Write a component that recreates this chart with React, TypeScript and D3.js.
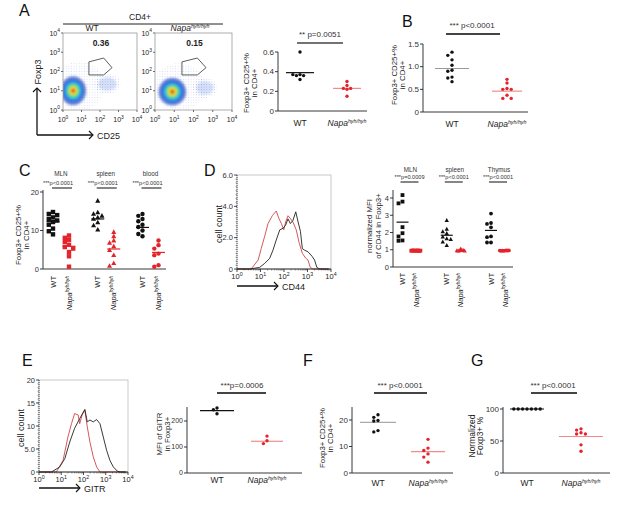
import React from 'react';
import * as d3 from 'd3';

const FONT = '"Liberation Sans", Arial, Helvetica, sans-serif';
const RED = '#e3242b';
const PINK = '#f28b8b';

// ---------- A: flow plots ----------
const facsGateValues = ['0.36', '0.15'];
const facsDecades = [0, 1, 2, 3, 4];
const densityLevels = [1, 0.8, 0.63, 0.48, 0.35, 0.23, 0.12];
const densityColors = ['#3452c4', '#2f6fdc', '#33b5e6', '#5fd38a', '#c9e64a', '#f5b82e', '#e0301e'];
// [log CD25, log Foxp3, spread x, spread y]
const wtBlob = [0.55, 1.0, 0.7, 0.75];
const napaBlob = [0.9, 0.95, 0.72, 0.72];
const wtMinor = [2.4, 1.35, 0.5, 0.35];
const napaMinor = [2.6, 1.15, 0.45, 0.35];
const gateX = [1.4, 2.2, 2.65, 2.2, 1.4];
const gateY = [2.5, 2.7, 2.2, 1.82, 1.82];

// ---------- A / B dot plots ----------
const genotypes = ['WT', 'Napa'];
const aWT = [0.6, 0.37, 0.36, 0.36, 0.37, 0.32];
const aNapa = [0.3, 0.26, 0.23, 0.22, 0.23, 0.15];
const aMeans = [0.39, 0.23];
const bWT = [1.32, 1.25, 1.15, 1.03, 0.92, 0.9, 0.77, 0.75, 0.67];
const bNapa = [0.72, 0.64, 0.52, 0.5, 0.5, 0.37, 0.3, 0.3];
const bMeans = [0.96, 0.46];

// ---------- C ----------
const tissuesC = ['MLN', 'spleen', 'blood'];
const pC = ['***p<0.0001', '***p<0.0001', '***p<0.0001'];
const cWT = [
  [14.8, 14.3, 14.0, 13.4, 13.0, 12.6, 12.2, 11.5, 10.5, 9.8, 9.0],
  [17.7, 14.7, 14.3, 13.8, 13.4, 13.0, 12.1, 11.3, 10.2],
  [14.3, 13.8, 13.0, 12.4, 11.5, 10.9, 10.0, 9.1, 8.5],
];
const cNapa = [
  [8.7, 8.1, 7.6, 7.0, 6.3, 5.7, 5.3, 4.4, 3.3, 0.6],
  [9.6, 8.5, 7.4, 6.8, 5.9, 4.9, 3.6, 1.5, 0.8],
  [7.4, 6.2, 5.3, 4.0, 3.6, 1.0, 0.6],
];
const cMeansWT = [12.3, 13.0, 10.8];
const cMeansNapa = [5.9, 5.2, 4.3];

// ---------- D ----------
const dRedX = [0, 0.6, 0.9, 1.03, 1.18, 1.32, 1.5, 1.67, 1.79, 1.89, 1.99, 2.07, 2.17, 2.28, 2.38, 2.52, 2.64, 2.78, 2.92, 3.02, 3.12, 3.23, 3.9];
const dRedY = [0, 0, 0.57, 1.3, 2.1, 2.9, 3.4, 3.7, 3.2, 2.9, 2.5, 3.0, 3.4, 3.2, 3.0, 2.5, 1.7, 1.0, 0.7, 0.57, 0.1, 0, 0];
const dBlackX = [0, 0.54, 0.96, 1.18, 1.39, 1.53, 1.67, 1.82, 1.96, 2.07, 2.17, 2.27, 2.38, 2.5, 2.6, 2.7, 2.78, 2.88, 3.02, 3.2, 3.3, 3.4, 3.52, 3.9];
const dBlackY = [0, 0, 0.1, 0.36, 0.68, 1.2, 1.85, 2.5, 2.6, 2.8, 3.2, 2.9, 3.1, 3.65, 3.0, 2.4, 1.3, 1.2, 1.1, 0.8, 0.57, 0.1, 0, 0];
const tissuesD = ['MLN', 'spleen', 'Thymus'];
const pD = ['***p=0.0009', '***p<0.0001', '***p<0.0001'];
const dWT = [
  [4.17, 3.79, 3.69, 2.31, 1.96, 1.77, 1.54, 1.52],
  [2.7, 2.2, 2.05, 1.95, 1.75, 1.65, 1.6, 1.45, 1.25],
  [3.1, 2.55, 2.5, 2.3, 1.77, 1.73, 1.42, 1.42],
];
const dNapa = [
  [0.95, 0.94, 0.96, 0.95, 0.93, 0.96, 0.95, 0.94],
  [1.05, 0.98, 0.95, 0.96, 0.94, 0.97, 0.95, 0.93],
  [0.95, 0.94, 0.96, 0.95, 0.95, 0.94, 0.96, 0.95],
];
const dMeansWT = [2.6, 1.84, 2.12];
const dMeansNapa = [0.95, 0.96, 0.95];

// ---------- E ----------
const eRedX = [0, 0.78, 1.08, 1.3, 1.46, 1.6, 1.76, 1.83, 1.94, 2.06, 2.17, 2.29, 2.44, 2.59, 2.74, 3.9];
const eRedY = [0, 0, 2.5, 7.6, 10.5, 12.7, 12.4, 10.5, 12.4, 13.5, 9.8, 6.5, 3.3, 1.1, 0, 0];
const eBlackX = [0, 0.56, 0.93, 1.16, 1.38, 1.6, 1.83, 2.06, 2.17, 2.29, 2.44, 2.59, 2.74, 2.89, 3.04, 3.19, 3.34, 3.52, 3.64, 3.9];
const eBlackY = [0, 0, 1.1, 2.9, 6.5, 9.5, 11.6, 13.6, 10.9, 11.3, 10.9, 11.4, 10.5, 7.6, 4.7, 2.5, 1.1, 0.2, 0, 0];
const eWT = [250, 243, 228];
const eNapa = [142, 124, 113];
const eMeans = [240, 122];

// ---------- F / G ----------
const fWT = [22, 21, 19.8, 19.6, 16, 15.5];
const fNapa = [12.7, 9.4, 8.5, 7.2, 6, 4.1];
const fMeans = [19.1, 8.1];
const gWT = [100, 100, 100, 100, 100, 100, 100];
const gNapa = [69, 67, 63, 61, 61, 44, 34];
const gMeans = [100, 57];

function swarm(values, y, cx, gap, step) {
  const placed = [];
  values.forEach((v) => {
    const py = y(v);
    let px = cx;
    for (let i = 0; i < 30; i++) {
      const off = i === 0 ? 0 : (i % 2 ? -1 : 1) * Math.ceil(i / 2) * step;
      px = cx + off;
      if (!placed.some(([qx, qy]) => Math.hypot(qx - px, qy - py) < gap)) break;
    }
    placed.push([px, py]);
  });
  return placed;
}

function Marker({ shape, x, y, r, fill }) {
  if (shape === 'square') return <rect x={x - r} y={y - r} width={2 * r} height={2 * r} fill={fill} />;
  if (shape === 'triangle')
    return <path d={`M${x},${y - r * 1.25}L${x + r * 1.15},${y + r * 0.85}L${x - r * 1.15},${y + r * 0.85}Z`} fill={fill} />;
  return <circle cx={x} cy={y} r={r} fill={fill} />;
}

function NapaText({ x, y, size, rotate = false }) {
  const tr = rotate ? `rotate(-90,${x},${y})` : undefined;
  return (
    <text x={x} y={y} transform={tr} textAnchor={rotate ? 'end' : 'middle'} fontSize={size} fill="#222">
      <tspan fontStyle="italic">Napa</tspan>
      <tspan fontStyle="italic" fontSize={size * 0.62} dy={-size * 0.4}>hyh/hyh</tspan>
    </text>
  );
}

function Pow({ x, y, n, size, anchor = 'middle' }) {
  return (
    <text x={x} y={y} textAnchor={anchor} fontSize={size} fill="#222">
      10<tspan fontSize={size * 0.7} dy={-size * 0.45}>{n}</tspan>
    </text>
  );
}

function YLabel({ lines, xs, cy, size }) {
  return (
    <g>
      {lines.map((l, i) => (
        <text key={i} x={xs[i]} y={cy} transform={`rotate(-90,${xs[i]},${cy})`} textAnchor="middle" fontSize={size} fill="#222">
          {l}
        </text>
      ))}
    </g>
  );
}

function DotPlot({ axisX, axisEnd, y0, top, axisTop, ticks, fmt, tickSize, groups, r, step, xlabelY, xlabelSize, rotLabels = false }) {
  const y = d3.scaleLinear().domain([0, top[0]]).range([y0, top[1]]);
  return (
    <g>
      <line x1={axisX} x2={axisX} y1={y0} y2={axisTop} stroke="#222" strokeWidth={0.9} />
      <line x1={axisX} x2={axisEnd} y1={y0} y2={y0} stroke="#222" strokeWidth={0.9} />
      {ticks.map((t) => (
        <g key={t}>
          <line x1={axisX - 3} x2={axisX} y1={y(t)} y2={y(t)} stroke="#222" strokeWidth={0.9} />
          <text x={axisX - 4} y={y(t)} dy="0.35em" textAnchor="end" fontSize={tickSize} fill="#333">
            {fmt(t)}
          </text>
        </g>
      ))}
      {groups.map((g, gi) => (
        <g key={gi}>
          {g.half > 0 && (
            <line x1={g.x - g.half} x2={g.x + g.half} y1={y(g.mean)} y2={y(g.mean)} stroke={g.meanColor} strokeWidth={1.2} />
          )}
          {swarm(g.values, y, g.x, g.gap ?? 1.9 * r, g.step ?? step).map(([px, py], i) => (
            <Marker key={i} shape={g.shape} x={px} y={py} r={r} fill={g.color} />
          ))}
          {g.name === 'WT' ? (
            rotLabels ? (
              <text x={g.x + xlabelSize * 0.35} y={xlabelY} transform={`rotate(-90,${g.x + xlabelSize * 0.35},${xlabelY})`} textAnchor="end" fontSize={xlabelSize} fill="#222">WT</text>
            ) : (
              <text x={g.x} y={xlabelY} textAnchor="middle" fontSize={xlabelSize} fill="#222">WT</text>
            )
          ) : (
            <NapaText x={rotLabels ? g.x + xlabelSize * 0.35 : g.x} y={xlabelY} size={xlabelSize} rotate={rotLabels} />
          )}
        </g>
      ))}
    </g>
  );
}

function Sig({ x1, x2, y, text, tx, ty, size, width = 1.5 }) {
  return (
    <g>
      <line x1={x1} x2={x2} y1={y} y2={y} stroke="#444" strokeWidth={width} />
      <text x={tx} y={ty} textAnchor="middle" fontSize={size} fill="#333">{text}</text>
    </g>
  );
}

function Arrow({ x1, x2, y, label }) {
  return (
    <g>
      <line x1={x1} x2={x2} y1={y} y2={y} stroke="#111" strokeWidth={1.3} />
      <path d={`M${x2 - 4},${y - 4}L${x2},${y}L${x2 - 4},${y + 4}`} fill="none" stroke="#111" strokeWidth={1.1} />
      <text x={x2 + 4} y={y + 3.5} fontSize={9} fill="#222">{label}</text>
    </g>
  );
}

function Facs({ left, width, blob, minor, value, id }) {
  const x = d3.scaleLinear().domain([0, 4]).range([left, left + width]);
  const y = d3.scaleLinear().domain([0, 4]).range([110, 33]);
  const sx = (d) => x(d) - x(0);
  const sy = (d) => y(0) - y(d);
  const gate = d3.line()(gateX.map((g, i) => [x(g), y(gateY[i])])) + 'Z';
  return (
    <g>
      <clipPath id={id}>
        <rect x={x(0)} y={y(4)} width={width} height={y(0) - y(4)} />
      </clipPath>
      <g clipPath={`url(#${id})`}>
        <ellipse cx={x(blob[0] + 0.35)} cy={y(blob[1] + 0.25)} rx={sx(blob[2] * 1.9)} ry={sy(blob[3] * 1.7)} fill="url(#facsDots)" opacity={0.28} />
        <ellipse cx={x(minor[0])} cy={y(minor[1])} rx={sx(minor[2] * 1.4)} ry={sy(minor[3] * 1.5)} fill="url(#facsDots)" opacity={0.4} />
        <ellipse cx={x(minor[0])} cy={y(minor[1])} rx={sx(minor[2])} ry={sy(minor[3])} fill="#8aa5ea" opacity={0.35} filter="url(#soft)" />
        <g filter="url(#soft)">
          {densityLevels.map((l, i) => (
            <ellipse key={i} cx={x(blob[0])} cy={y(blob[1])} rx={sx(blob[2] * l)} ry={sy(blob[3] * l)} fill={densityColors[i]} opacity={i === 0 ? 0.7 : 1} />
          ))}
        </g>
      </g>
      <rect x={x(0)} y={y(4)} width={width} height={y(0) - y(4)} fill="none" stroke="#999" strokeWidth={0.8} />
      <path d={gate} fill="none" stroke="#333" strokeWidth={0.8} />
      <text x={x(2.05)} y={46} textAnchor="middle" fontSize={8.5} fontWeight="bold" fill="#222">{value}</text>
      {facsDecades.map((d) => (
        <g key={d}>
          <line x1={x(d)} x2={x(d)} y1={y(0)} y2={y(0) + 2} stroke="#333" strokeWidth={0.7} />
          <line x1={x(0) - 2} x2={x(0)} y1={y(d)} y2={y(d)} stroke="#333" strokeWidth={0.7} />
          <Pow x={x(d)} y={122} n={d} size={7} />
          <Pow x={x(0) - 3} y={y(d) + 2.5} n={d} size={7} anchor="end" />
        </g>
      ))}
    </g>
  );
}

function Hist({ left, right, top, bottom, yMax, yTicks, yFmt, red, black, labelX, arrowY, arrowLabel }) {
  const x = d3.scaleLinear().domain([0, 4]).range([left, right]);
  const y = d3.scaleLinear().domain([0, yMax]).range([bottom, top]);
  const line = d3.line().x((d) => x(d[0])).y((d) => y(d[1]));
  const minorX = [];
  for (let d = 0; d < 4; d++) for (let m = 2; m < 10; m++) minorX.push(d + Math.log10(m));
  const minorY = d3.range(0, yMax, yMax / 24);
  return (
    <g>
      <rect x={left} y={top} width={right - left} height={bottom - top} fill="none" stroke="#bbb" strokeWidth={0.8} />
      <path d={line(red[0].map((v, i) => [v, red[1][i]]))} fill="none" stroke="#d0454a" strokeWidth={0.9} />
      <path d={line(black[0].map((v, i) => [v, black[1][i]]))} fill="none" stroke="#222" strokeWidth={0.9} />
      <line x1={left} x2={left} y1={top} y2={bottom} stroke="#222" strokeWidth={0.8} strokeDasharray="1,1" />
      <line x1={left} x2={right} y1={bottom} y2={bottom} stroke="#222" strokeWidth={0.9} />
      {minorY.map((v, i) => (
        <line key={i} x1={left - 1.5} x2={left} y1={y(v)} y2={y(v)} stroke="#555" strokeWidth={0.5} />
      ))}
      {yTicks.map((t) => (
        <g key={t}>
          <line x1={left - 3} x2={left} y1={y(t)} y2={y(t)} stroke="#222" strokeWidth={0.8} />
          <text x={left - 4} y={y(t)} dy="0.35em" textAnchor="end" fontSize={7.5} fill="#333">{yFmt(t)}</text>
        </g>
      ))}
      {minorX.map((v, i) => (
        <line key={i} x1={x(v)} x2={x(v)} y1={bottom} y2={bottom + 1.5} stroke="#333" strokeWidth={0.5} />
      ))}
      {facsDecades.map((d) => (
        <g key={d}>
          <line x1={x(d)} x2={x(d)} y1={bottom} y2={bottom + 3} stroke="#222" strokeWidth={0.8} />
          <Pow x={x(d)} y={bottom + 10} n={d} size={7.5} />
        </g>
      ))}
      <YLabel lines={['cell count']} xs={[labelX]} cy={(top + bottom) / 2 + 2} size={9} />
      <Arrow x1={left} x2={left + 41} y={arrowY} label={arrowLabel} />
    </g>
  );
}

function Letter({ x, y, t }) {
  return <text x={x} y={y} fontSize={16} fill="#111">{t}</text>;
}

export default function App() {
  const fmt1 = (v) => (v === 0 ? '0' : v.toFixed(1));
  const fmt0 = (v) => String(v);
  const xAB = (range) => d3.scalePoint().domain(genotypes).range(range);
  const pair = (xs, wt, napa, means, colors, halves) =>
    genotypes.map((g, i) => ({
      name: g,
      x: xs(g),
      values: i === 0 ? wt : napa,
      mean: means[i],
      color: i === 0 ? '#111' : RED,
      meanColor: colors[i],
      half: halves[i],
      shape: 'circle',
    }));

  const xA = xAB([300, 347]);
  const xB = xAB([452, 507]);
  const xE = xAB([217, 267]);
  const xF = xAB([378, 428]);
  const xG = xAB([527, 581]);

  const tC = d3.scalePoint().domain(tissuesC).range([61, 150.5]);
  const tD = d3.scalePoint().domain(tissuesD).range([409.5, 498]);
  const shapes = ['square', 'triangle', 'circle'];
  const groupsC = tissuesC.flatMap((t, i) => [
    { name: 'WT', x: tC(t) - 8, values: cWT[i], mean: cMeansWT[i], color: '#111', meanColor: '#111', half: 6.5, shape: shapes[i] },
    { name: 'Napa', x: tC(t) + 8, values: cNapa[i], mean: cMeansNapa[i], color: RED, meanColor: RED, half: 6.5, shape: shapes[i] },
  ]);
  const groupsD = tissuesD.flatMap((t, i) => [
    { name: 'WT', x: tD(t) - 7, values: dWT[i], mean: dMeansWT[i], color: '#111', meanColor: '#111', half: 6, shape: shapes[i], step: 4 },
    { name: 'Napa', x: tD(t) + 7, values: dNapa[i], mean: dMeansNapa[i], color: RED, meanColor: RED, half: 0, shape: shapes[i], gap: 1.2, step: 1.3 },
  ]);

  return (
    <svg width={617} height={510} style={{ position: 'absolute', left: 0, top: 0, background: '#fff' }} fontFamily={FONT}>
      <defs>
        <pattern id="facsDots" width={2.6} height={2.6} patternUnits="userSpaceOnUse">
          <circle cx={1.3} cy={1.3} r={0.5} fill="#3f63cf" />
        </pattern>
        <filter id="soft" x="-20%" y="-20%" width="140%" height="140%">
          <feGaussianBlur stdDeviation={1} />
        </filter>
      </defs>
      <rect width={617} height={510} fill="#fff" />

      {/* A */}
      <Letter x={19} y={16} t="A" />
      <text x={140} y={20} textAnchor="middle" fontSize={8.5} fill="#222">CD4+</text>
      <line x1={63} x2={223} y1={24} y2={24} stroke="#222" strokeWidth={1} />
      <text x={92} y={31} textAnchor="middle" fontSize={8.5} fill="#222">WT</text>
      <NapaText x={190} y={31} size={8.5} />
      <Facs left={63} width={74} blob={wtBlob} minor={wtMinor} value={facsGateValues[0]} id="fa" />
      <Facs left={155} width={77} blob={napaBlob} minor={napaMinor} value={facsGateValues[1]} id="fb" />
      <line x1={37} x2={37} y1={135} y2={88} stroke="#111" strokeWidth={1.3} />
      <path d="M33,92L37,88L41,92" fill="none" stroke="#111" strokeWidth={1.1} />
      <line x1={37} x2={93} y1={135} y2={135} stroke="#111" strokeWidth={1.3} />
      <path d="M89,131L93,135L89,139" fill="none" stroke="#111" strokeWidth={1.1} />
      <YLabel lines={['Foxp3']} xs={[41]} cy={72} size={9} />
      <text x={97} y={138.5} fontSize={9} fill="#222">CD25</text>

      <DotPlot axisX={278} axisEnd={367} y0={111} top={[0.6, 52]} axisTop={52} ticks={[0, 0.2, 0.4, 0.6]} fmt={fmt1} tickSize={8}
        groups={pair(xA, aWT, aNapa, aMeans, ['#111', PINK], [14, 14])} r={1.7} step={3.6} xlabelY={126} xlabelSize={8.5} />
      <YLabel lines={['Foxp3+ CD25+%', 'in CD4+']} xs={[249, 257]} cy={83} size={7.8} />
      <Sig x1={297} x2={343} y={43} text="** p=0.0051" tx={320} ty={37} size={8} />

      {/* B */}
      <Letter x={402} y={27} t="B" />
      <DotPlot axisX={423} axisEnd={528} y0={112} top={[1.5, 44]} axisTop={44} ticks={[0, 0.5, 1.0, 1.5]} fmt={fmt1} tickSize={8}
        groups={pair(xB, bWT, bNapa, bMeans, ['#999', PINK], [17, 15])} r={1.7} step={4.2} xlabelY={127} xlabelSize={8.5} />
      <YLabel lines={['Foxp3+ CD25+%', 'in CD4+']} xs={[397, 405]} cy={75} size={7.8} />
      <Sig x1={446} x2={500} y={34} text="*** p<0.0001" tx={472} ty={28} size={8} width={2} />

      {/* C */}
      <Letter x={19} y={176} t="C" />
      <DotPlot axisX={43} axisEnd={166} y0={269} top={[20, 192]} axisTop={190} ticks={[0, 10, 20]} fmt={fmt0} tickSize={7.5}
        groups={groupsC} r={2.2} step={4.2} xlabelY={276} xlabelSize={7.5} rotLabels />
      <YLabel lines={['Foxp3+ CD25+%', 'in CD4+']} xs={[21, 29]} cy={235} size={7.8} />
      {tissuesC.map((t, i) => (
        <g key={t}>
          <text x={tC(t)} y={176} textAnchor="middle" fontSize={6.3} fill="#333">{t}</text>
          <Sig x1={tC(t) - 9} x2={tC(t) + 11} y={188} text={pC[i]} tx={tC(t) - 3} ty={185} size={5.6} width={1.3} />
        </g>
      ))}

      {/* D */}
      <Letter x={204} y={176} t="D" />
      <Hist left={237} right={331} top={175} bottom={269} yMax={6} yTicks={[0, 2, 4, 6]} yFmt={(v) => (v === 0 ? '0' : v.toFixed(1))}
        red={[dRedX, dRedY]} black={[dBlackX, dBlackY]} labelX={222} arrowY={286} arrowLabel="CD44" />
      <DotPlot axisX={393} axisEnd={513} y0={267} top={[4, 198]} axisTop={190} ticks={[0, 1, 2, 3, 4]} fmt={fmt0} tickSize={7.5}
        groups={groupsD} r={1.9} step={4} xlabelY={273} xlabelSize={7.5} rotLabels />
      <YLabel lines={['normalized MFI', 'of CD44 in Foxp3+']} xs={[372, 381]} cy={226} size={7.8} />
      {tissuesD.map((t, i) => (
        <g key={t}>
          <text x={tD(t) + 1} y={172} textAnchor="middle" fontSize={6.3} fill="#333">{t}</text>
          <Sig x1={tD(t) - 9} x2={tD(t) + 9} y={182} text={pD[i]} tx={tD(t)} ty={179} size={5.6} width={1.3} />
        </g>
      ))}

      {/* E */}
      <Letter x={22} y={366} t="E" />
      <Hist left={39} right={128} top={380} bottom={472} yMax={20} yTicks={[0, 5, 10, 15, 20]} yFmt={(v) => (v === 5 ? '5.0' : String(v))}
        red={[eRedX, eRedY]} black={[eBlackX, eBlackY]} labelX={24} arrowY={488} arrowLabel="GITR" />
      <DotPlot axisX={187} axisEnd={302} y0={473} top={[200, 421]} axisTop={407} ticks={[0, 100, 200]} fmt={fmt0} tickSize={7}
        groups={pair(xE, eWT, eNapa, eMeans, ['#111', PINK], [17, 16])} r={1.7} step={3.6} xlabelY={483} xlabelSize={8.5} />
      <YLabel lines={['MFI of GITR', 'in Foxp3+']} xs={[162, 170]} cy={434} size={7.8} />
      <Sig x1={217} x2={266} y={393} text="***p=0.0006" tx={242} ty={388} size={8} width={2} />

      {/* F */}
      <Letter x={303} y={366} t="F" />
      <DotPlot axisX={352} axisEnd={453} y0={473} top={[20, 420]} axisTop={407} ticks={[0, 10, 20]} fmt={fmt0} tickSize={8}
        groups={pair(xF, fWT, fNapa, fMeans, ['#aaa', PINK], [18, 17])} r={1.7} step={4.2} xlabelY={486} xlabelSize={8.5} />
      <YLabel lines={['Foxp3+ CD25+%', 'in CD4+']} xs={[325, 333]} cy={438} size={7.8} />
      <Sig x1={374} x2={427} y={393} text="*** p<0.0001" tx={400} ty={388} size={8} width={2} />

      {/* G */}
      <Letter x={471} y={366} t="G" />
      <DotPlot axisX={503} axisEnd={610} y0={473} top={[100, 409]} axisTop={407} ticks={[0, 50, 100]} fmt={fmt0} tickSize={8}
        groups={pair(xG, gWT, gNapa, gMeans, ['#111', PINK], [17, 22])} r={1.7} step={4.4} xlabelY={486} xlabelSize={8.5} />
      <YLabel lines={['Normalized', 'Foxp3+ %']} xs={[475, 483]} cy={436} size={8.5} />
      <Sig x1={531} x2={577} y={393} text="*** p<0.0001" tx={553} ty={388} size={8} width={2} />
    </svg>
  );
}
